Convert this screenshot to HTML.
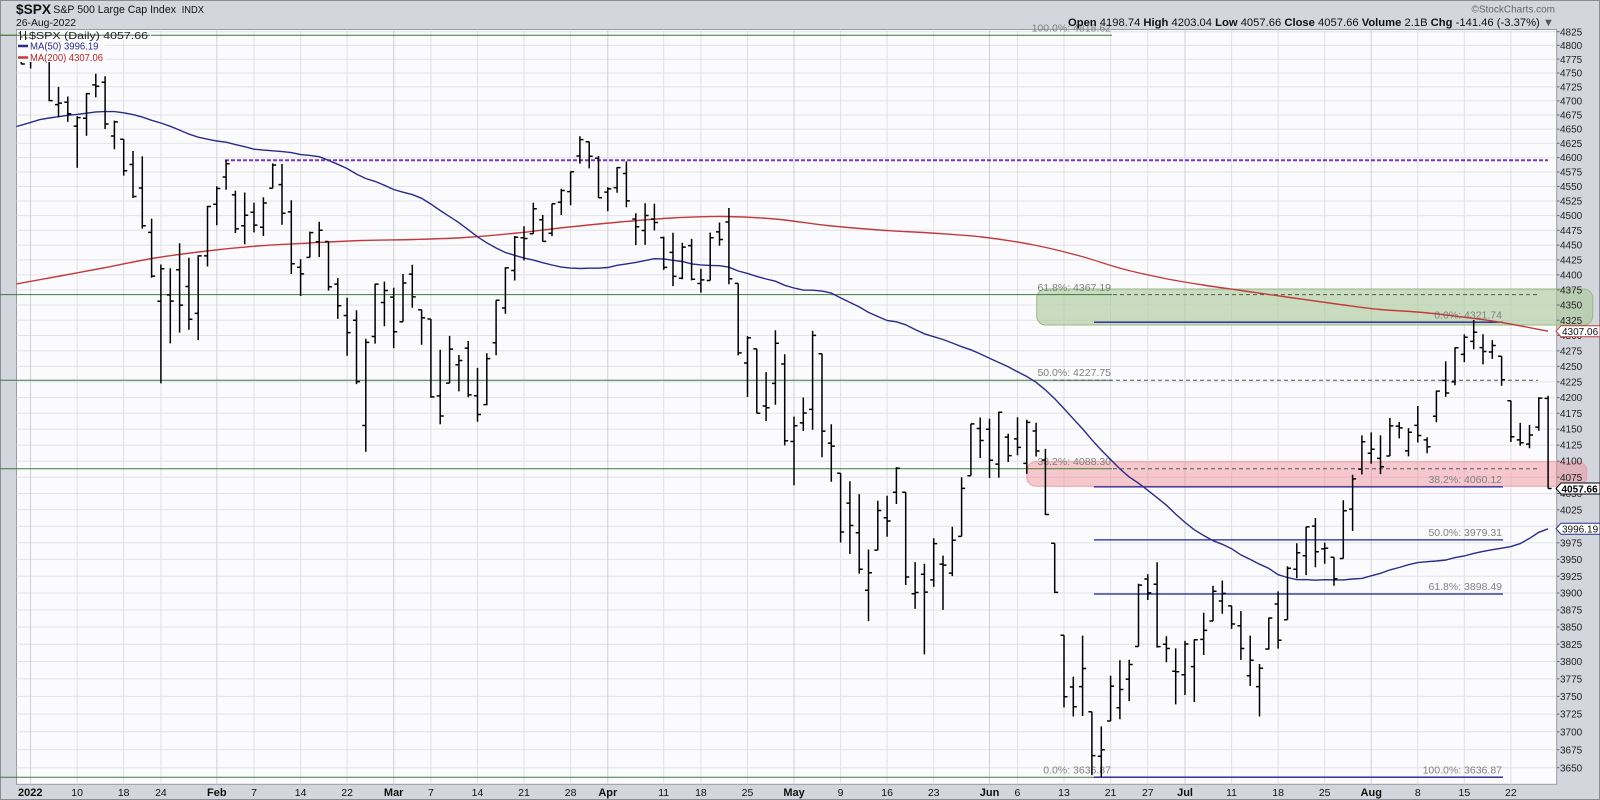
<!DOCTYPE html>
<html><head><meta charset="utf-8">
<style>
html,body{margin:0;padding:0;background:#d3d6dd;width:1600px;height:800px;overflow:hidden;}
svg{display:block;font-family:"Liberation Sans",Arial,sans-serif;}
.yl{font-size:10px;fill:#222;}
.dl{font-size:10.5px;fill:#111;text-anchor:middle;}
.dm{font-size:11px;font-weight:bold;fill:#111;text-anchor:middle;}
.fa{font-size:10.5px;fill:#808080;text-anchor:end;}
</style></head><body>
<svg id="c" width="1600" height="800" viewBox="0 0 1600 800" xmlns="http://www.w3.org/2000/svg">
<defs><clipPath id="pc"><rect x="16.5" y="29.5" width="1540.2" height="754.8"/></clipPath></defs>
<rect x="0" y="0" width="1600" height="800" fill="#d3d6dd"/>
<rect x="0.5" y="0.5" width="1599" height="799" fill="none" stroke="#8a8d94"/>
<rect x="16.5" y="29.5" width="1540.2" height="754.8" fill="#fbfbfd" stroke="#9a9ca3"/>
<g id="grid"></g>

<!-- zones -->
<rect x="1036.7" y="289" width="556" height="36" rx="9" fill="#a8c898" fill-opacity="0.6" stroke="#98b888" stroke-width="1"/>
<rect x="1026.7" y="461.7" width="560" height="24.5" rx="9" fill="#f08890" fill-opacity="0.45" stroke="#eba0a6" stroke-width="1"/>

<!-- fib A solid green -->
<g stroke="#3d7b3d" stroke-width="1">
<line x1="0" y1="35.2" x2="1112" y2="35.2"/>
<line x1="0" y1="294.6" x2="1112" y2="294.6"/>
<line x1="0" y1="380.2" x2="1112" y2="380.2"/>
<line x1="0" y1="468.7" x2="1112" y2="468.7"/>
<line x1="0" y1="777.2" x2="1112" y2="777.2"/>
</g>
<!-- dashed continuations -->
<g stroke="#4a5a4a" stroke-width="1" stroke-dasharray="4,3">
<line x1="1113" y1="294.6" x2="1539" y2="294.6"/>
<line x1="1053" y1="380.2" x2="1538" y2="380.2"/>
<line x1="1113" y1="468.7" x2="1539" y2="468.7"/>
</g>
<!-- purple dashed -->
<line x1="225" y1="160.3" x2="1548" y2="160.3" stroke="#7a35c4" stroke-width="2" stroke-dasharray="4,2"/>
<!-- fib B blue -->
<g stroke="#1f1f96" stroke-width="1.3">
<line x1="1094" y1="322.2" x2="1503" y2="322.2"/>
<line x1="1094" y1="486.9" x2="1503" y2="486.9"/>
<line x1="1094" y1="539.9" x2="1503" y2="539.9"/>
<line x1="1094" y1="594.0" x2="1503" y2="594.0"/>
<line x1="1094" y1="777.2" x2="1503" y2="777.2"/>
</g>
<!-- fib labels -->
<text class="fa" x="1111" y="31.5">100.0%: 4818.62</text>
<text class="fa" x="1111" y="290.8">61.8%: 4367.19</text>
<text class="fa" x="1111" y="376.2">50.0%: 4227.75</text>
<text class="fa" x="1111" y="465.2">38.2%: 4088.30</text>
<text class="fa" x="1111" y="773.5">0.0%: 3636.87</text>
<text class="fa" x="1502" y="318.5">0.0%: 4321.74</text>
<text class="fa" x="1502" y="483">38.2%: 4060.12</text>
<text class="fa" x="1502" y="536">50.0%: 3979.31</text>
<text class="fa" x="1502" y="590">61.8%: 3898.49</text>
<text class="fa" x="1502" y="773.5">100.0%: 3636.87</text>

<g clip-path="url(#pc)">
<path id="ma200" fill="none" stroke="#c23b3b" stroke-width="1.4"/>
<path id="ma50" fill="none" stroke="#2b2b88" stroke-width="1.4"/>
<path id="bars" fill="none" stroke="#000" stroke-width="1.5"/>
</g>

<!-- legend -->
<rect x="17" y="30" width="89" height="32" fill="#fbfbfd"/>
<rect x="17" y="30" width="134" height="10" fill="#fbfbfd"/>
<line x1="0" y1="35.2" x2="150" y2="35.2" stroke="#3d7b3d" stroke-width="1"/>
<path d="M20.5,31 V40 M18.5,33 H20.5 M20.5,37 H22.5 M25.5,31 V40 M23.5,35 H25.5 M25.5,38 H27.5" stroke="#222" stroke-width="1" fill="none"/>
<text x="29" y="39" font-size="10.5" fill="#222" textLength="119" lengthAdjust="spacingAndGlyphs">$SPX (Daily) 4057.66</text>
<line x1="18" y1="46" x2="28" y2="46" stroke="#2b2b88" stroke-width="2.5"/>
<text x="30" y="49.5" font-size="10.5" fill="#2b2b88" textLength="68.5" lengthAdjust="spacingAndGlyphs">MA(50) 3996.19</text>
<line x1="18" y1="57.5" x2="28" y2="57.5" stroke="#c23b3b" stroke-width="2.5"/>
<text x="30" y="61" font-size="10.5" fill="#b02525" textLength="73" lengthAdjust="spacingAndGlyphs">MA(200) 4307.06</text>

<!-- header -->
<text x="16" y="14" font-size="14" font-weight="bold" fill="#111" textLength="35" lengthAdjust="spacingAndGlyphs">$SPX</text>
<text x="53.3" y="13" font-size="10.8" fill="#111" textLength="122.7" lengthAdjust="spacingAndGlyphs">S&amp;P 500 Large Cap Index</text>
<text x="181.7" y="13" font-size="10" fill="#111" textLength="22.3" lengthAdjust="spacingAndGlyphs">INDX</text>
<text x="16" y="26" font-size="10.5" fill="#111" textLength="60" lengthAdjust="spacingAndGlyphs">26-Aug-2022</text>
<text x="1555" y="12.5" font-size="10" fill="#666" text-anchor="end">©StockCharts.com</text>
<text x="1554" y="26" font-size="11" fill="#111" text-anchor="end" textLength="486" lengthAdjust="spacingAndGlyphs"><tspan font-weight="bold">Open</tspan> 4198.74 <tspan font-weight="bold">High</tspan> 4203.04 <tspan font-weight="bold">Low</tspan> 4057.66 <tspan font-weight="bold">Close</tspan> 4057.66 <tspan font-weight="bold">Volume</tspan> 2.1B <tspan font-weight="bold">Chg</tspan> -141.46 (-3.37%) <tspan fill="#555">▼</tspan></text>

<!-- right axis -->
<g id="ticks" stroke="#666" stroke-width="1"></g>
<g id="yax">
<text class="yl" x="1560">4825</text><text class="yl" x="1560">4800</text><text class="yl" x="1560">4775</text><text class="yl" x="1560">4750</text>
<text class="yl" x="1560">4725</text><text class="yl" x="1560">4700</text><text class="yl" x="1560">4675</text><text class="yl" x="1560">4650</text>
<text class="yl" x="1560">4625</text><text class="yl" x="1560">4600</text><text class="yl" x="1560">4575</text><text class="yl" x="1560">4550</text>
<text class="yl" x="1560">4525</text><text class="yl" x="1560">4500</text><text class="yl" x="1560">4475</text><text class="yl" x="1560">4450</text>
<text class="yl" x="1560">4425</text><text class="yl" x="1560">4400</text><text class="yl" x="1560">4375</text><text class="yl" x="1560">4350</text>
<text class="yl" x="1560">4325</text><text class="yl" x="1560">4300</text><text class="yl" x="1560">4275</text><text class="yl" x="1560">4250</text>
<text class="yl" x="1560">4225</text><text class="yl" x="1560">4200</text><text class="yl" x="1560">4175</text><text class="yl" x="1560">4150</text>
<text class="yl" x="1560">4125</text><text class="yl" x="1560">4100</text><text class="yl" x="1560">4075</text><text class="yl" x="1560">4050</text>
<text class="yl" x="1560">4025</text><text class="yl" x="1560">4000</text><text class="yl" x="1560">3975</text><text class="yl" x="1560">3950</text>
<text class="yl" x="1560">3925</text><text class="yl" x="1560">3900</text><text class="yl" x="1560">3875</text><text class="yl" x="1560">3850</text>
<text class="yl" x="1560">3825</text><text class="yl" x="1560">3800</text><text class="yl" x="1560">3775</text><text class="yl" x="1560">3750</text>
<text class="yl" x="1560">3725</text><text class="yl" x="1560">3700</text><text class="yl" x="1560">3675</text><text class="yl" x="1560">3650</text>
</g>
<polygon points="1556,331.2 1561,325.7 1600,325.7 1600,336.7 1561,336.7" fill="#fff" stroke="#c23b3b"/>
<text x="1562" y="335" font-size="10" fill="#111">4307.06</text>
<polygon points="1556,488.5 1561,483 1600,483 1600,494 1561,494" fill="#fff" stroke="#000"/>
<text x="1561.5" y="492.3" font-size="10" font-weight="bold" fill="#000">4057.66</text>
<polygon points="1556,528.7 1561,523.2 1600,523.2 1600,534.2 1561,534.2" fill="#fff" stroke="#2b2b88"/>
<text x="1562" y="532.5" font-size="10" fill="#111">3996.19</text>

<!-- bottom date axis -->
<text class="dm" x="18" y="796" text-anchor="start" style="text-anchor:start">2022</text>
<text class="dl" x="77.15" y="796">10</text>
<text class="dl" x="123.7" y="796">18</text>
<text class="dl" x="160.94" y="796">24</text>
<text class="dm" x="216.8" y="796">Feb</text>
<text class="dl" x="254.04" y="796">7</text>
<text class="dl" x="300.59" y="796">14</text>
<text class="dl" x="347.14" y="796">22</text>
<text class="dm" x="393.69" y="796">Mar</text>
<text class="dl" x="430.93" y="796">7</text>
<text class="dl" x="477.48" y="796">14</text>
<text class="dl" x="524.03" y="796">21</text>
<text class="dl" x="570.58" y="796">28</text>
<text class="dm" x="607.82" y="796">Apr</text>
<text class="dl" x="663.68" y="796">11</text>
<text class="dl" x="700.92" y="796">18</text>
<text class="dl" x="747.47" y="796">25</text>
<text class="dm" x="794.02" y="796">May</text>
<text class="dl" x="840.57" y="796">9</text>
<text class="dl" x="887.12" y="796">16</text>
<text class="dl" x="933.67" y="796">23</text>
<text class="dm" x="989.53" y="796">Jun</text>
<text class="dl" x="1017.46" y="796">6</text>
<text class="dl" x="1064.01" y="796">13</text>
<text class="dl" x="1110.56" y="796">21</text>
<text class="dl" x="1147.8" y="796">27</text>
<text class="dm" x="1185.04" y="796">Jul</text>
<text class="dl" x="1231.59" y="796">11</text>
<text class="dl" x="1278.14" y="796">18</text>
<text class="dl" x="1324.69" y="796">25</text>
<text class="dm" x="1371.24" y="796">Aug</text>
<text class="dl" x="1417.79" y="796">8</text>
<text class="dl" x="1464.34" y="796">15</text>
<text class="dl" x="1510.89" y="796">22</text>
</svg>
<script>
(function(){
const NS="http://www.w3.org/2000/svg";
const LT=Math.log(4825);
const Y=p=>31.7+2637.3*(LT-Math.log(p));
const X=i=>30.6+9.31*i;
function el(t,a,p){const e=document.createElementNS(NS,t);for(const k in a)e.setAttribute(k,a[k]);p.appendChild(e);return e;}
// grid
const g=document.getElementById('grid');
for(let p=3650;p<=4825;p+=25){const y=Y(p).toFixed(1);el('line',{x1:16.5,x2:1556.7,y1:y,y2:y,stroke:'#e2e3e8','stroke-width':1},g);}
const di=[[0,1],[5,0],[10,0],[14,0],[20,1],[24,0],[29,0],[34,0],[39,1],[43,0],[48,0],[53,0],[58,0],[62,1],[68,0],[72,0],[77,0],[82,1],[87,0],[92,0],[97,0],[103,1],[106,0],[111,0],[116,0],[120,0],[124,1],[129,0],[134,0],[139,0],[144,1],[149,0],[154,0],[159,0]];
di.forEach(([i,m])=>{const x=X(i).toFixed(1);el('line',{x1:x,x2:x,y1:29.5,y2:784.3,stroke:m?'#cfd1d8':'#e0e1e7','stroke-width':1},g);});
// y labels & ticks
const tk=document.getElementById('ticks');
document.querySelectorAll('#yax text').forEach(t=>{const p=+t.textContent;const y=Y(p);t.setAttribute('y',(y+3.6).toFixed(1));el('line',{x1:1556.7,x2:1559.5,y1:y.toFixed(1),y2:y.toFixed(1)},tk);});
const D=[4794.23,4808.93,4775.33,4778.73,4775.21,4786.83,4765.75,4766.18,
4778.14,4796.64,4758.17,4796.56,4804.51,4818.62,4774.27,4793.54,4787.99,4797.70,4699.44,4700.58,4693.39,4725.01,4671.26,4696.05,4697.66,4707.95,4662.74,4677.03,
4655.34,4673.02,4582.24,4670.29,4669.14,4714.13,4638.27,4713.07,4728.59,4748.83,4706.71,4726.35,4733.56,4744.13,4650.29,4659.03,4637.99,4665.13,4614.75,4662.85,
4632.24,4632.24,4568.70,4577.11,4588.03,4611.55,4530.20,4532.76,4547.35,4602.11,4477.95,4482.73,4471.38,4494.52,4395.34,4397.94,
4356.32,4417.35,4222.62,4410.13,4366.64,4411.01,4287.11,4356.45,4408.43,4453.23,4304.80,4349.93,4380.58,4428.74,4309.50,4326.51,4336.19,4432.72,4292.46,4431.85,
4431.79,4516.89,4414.02,4515.55,
4519.57,4550.49,4483.53,4546.54,4566.39,4595.31,4544.32,4589.38,4535.41,4542.88,4470.39,4477.44,4482.79,4539.66,4451.50,4500.53,
4505.75,4521.86,4471.47,4483.87,4480.02,4531.32,4465.40,4521.54,4547.00,4590.03,4547.00,4587.18,4553.24,4588.92,4484.31,4504.08,4506.27,4526.33,4401.41,4418.64,
4412.61,4426.22,4364.84,4401.67,4429.28,4472.77,4429.28,4471.07,4455.75,4489.55,4429.68,4475.01,4456.06,4456.06,4373.81,4380.26,4384.57,4394.60,4327.22,4348.87,
4332.74,4362.12,4267.11,4304.76,4324.93,4341.51,4221.51,4225.50,4155.77,4294.73,4114.65,4288.70,4298.38,4385.34,4286.83,4384.65,
4354.17,4388.84,4315.12,4373.94,
4363.14,4378.45,4279.54,4306.26,4322.56,4401.48,4322.56,4386.54,4401.31,4416.78,4345.56,4363.49,4342.12,4342.12,4284.98,4328.87,
4327.01,4327.01,4199.85,4201.09,4202.66,4276.94,4157.87,4170.70,4223.10,4299.40,4223.10,4277.88,4252.55,4268.28,4209.80,4259.52,4279.50,4291.01,4200.49,4204.31,
4202.75,4247.57,4161.72,4173.11,4188.82,4271.05,4187.90,4262.45,4288.14,4357.86,4267.92,4357.86,4345.11,4412.67,4335.65,4411.67,4407.34,4465.40,4390.57,4463.12,
4462.40,4481.75,4424.30,4461.18,4469.10,4522.00,4469.10,4511.61,4493.10,4501.07,4455.81,4456.24,4469.98,4520.58,4465.17,4520.16,4522.91,4546.03,4501.07,4543.06,
4541.09,4575.65,4517.69,4575.52,4602.86,4637.30,4589.66,4631.60,4627.77,4627.77,4581.32,4602.45,4599.02,4603.07,4530.41,4530.41,
4540.32,4548.70,4507.57,4545.86,
4547.97,4583.50,4539.21,4582.64,4572.45,4593.45,4514.17,4525.12,4494.17,4503.94,4450.04,4481.15,4474.65,4521.16,4450.30,4500.21,4494.15,4520.41,4474.60,4488.28,
4462.64,4464.35,4408.38,4412.53,4437.59,4471.00,4381.34,4397.45,4394.30,4453.92,4392.70,4446.59,4449.12,4460.46,4390.77,4392.59,
4385.63,4410.31,4370.30,4391.69,4390.63,4471.03,4390.63,4462.21,4472.26,4488.29,4448.76,4459.45,4489.17,4512.94,4384.47,4393.66,4385.83,4385.83,4267.62,4271.78,
4255.34,4299.02,4200.82,4296.12,4278.14,4278.14,4175.04,4175.20,4186.52,4240.71,4162.90,4183.96,4222.58,4308.45,4188.63,4287.50,4253.75,4269.68,4124.28,4131.93,
4130.61,4169.81,4062.51,4155.38,4159.78,4200.10,4147.08,4175.48,4181.18,4307.66,4148.91,4300.17,4270.43,4270.43,4106.01,4146.87,4128.17,4157.69,4067.91,4123.34,
4081.27,4081.27,3975.48,3991.24,4035.18,4068.82,3958.17,4001.05,3990.08,4049.09,3928.82,3935.18,3903.95,3964.80,3858.87,3930.08,3963.90,4038.88,3963.90,4023.89,
4013.02,4046.46,3983.99,4008.01,4052.00,4090.72,4033.93,4088.85,4051.98,4051.98,3911.91,3923.68,3899.00,3945.96,3876.58,3900.79,3927.76,3943.42,3810.32,3901.36,
3919.42,3981.88,3909.04,3973.75,3942.94,3955.68,3875.13,3941.48,3929.59,3999.33,3925.03,3978.73,3984.60,4075.14,3984.60,4057.84,4077.43,4158.49,4077.43,4158.24,
4151.09,4168.34,4104.88,4132.15,
4149.78,4166.54,4073.85,4101.23,4095.41,4177.51,4074.37,4176.82,4137.57,4142.67,4098.67,4108.54,
4134.72,4168.78,4109.18,4121.43,4096.47,4164.86,4080.19,4160.68,4147.12,4160.14,4107.20,4115.77,4101.65,4119.10,4017.17,4017.82,3974.39,3974.39,3900.16,3900.86,
3838.15,3838.15,3734.30,3749.63,3763.52,3778.18,3721.56,3735.48,3764.05,3837.56,3722.30,3789.99,3728.18,3728.18,3639.77,3666.77,3665.90,3707.71,3636.87,3674.84,
3715.31,3779.65,3715.31,3764.79,3733.89,3801.79,3717.69,3759.89,3774.71,3802.58,3743.52,3795.73,3821.75,3913.65,3821.75,3911.74,
3920.76,3927.72,3889.66,3900.11,3913.00,3945.86,3820.14,3821.55,3825.09,3836.50,3799.02,3818.83,3785.99,3818.99,3738.67,3785.38,
3781.00,3829.82,3752.10,3825.33,
3792.61,3832.19,3742.06,3831.39,3831.98,3870.91,3809.37,3845.08,3858.85,3910.63,3858.85,3902.62,3888.26,3918.50,3869.34,3899.38,
3880.94,3880.94,3847.22,3854.43,3851.95,3873.41,3802.36,3818.80,3779.67,3837.56,3765.03,3801.78,3763.99,3796.41,3721.56,3790.38,3818.00,3863.62,3817.18,3863.16,
3883.79,3902.44,3818.63,3830.85,3860.73,3939.81,3860.73,3936.69,3935.32,3974.13,3922.03,3959.90,3955.47,3999.29,3926.63,3998.95,4000.16,4012.44,3938.24,3961.63,
3965.72,3975.30,3943.46,3966.84,3953.22,3953.22,3910.74,3921.05,3951.43,4039.56,3951.43,4023.61,4026.13,4078.95,3992.97,4072.43,4087.33,4140.15,4079.22,4130.29,
4112.38,4144.95,4096.02,4118.63,4104.21,4140.47,4079.81,4091.19,4107.96,4167.66,4107.96,4155.17,4154.85,4161.29,4135.42,4151.94,4115.87,4151.58,4107.31,4145.19,
4155.93,4186.62,4128.97,4140.06,4133.11,4137.30,4112.09,4122.47,4170.46,4211.03,4160.98,4210.24,4227.40,4257.91,4201.41,4207.27,4225.02,4280.47,4219.78,4280.15,
4269.37,4301.79,4256.90,4297.14,4290.46,4325.28,4277.77,4305.20,4280.40,4302.18,4253.08,4274.04,4273.13,4292.53,4261.98,4283.74,4266.31,4266.31,4218.70,4228.48,
4195.08,4195.08,4129.86,4137.99,4133.09,4159.77,4124.03,4128.73,4126.55,4156.56,4119.97,4140.77,4153.26,4200.54,4147.59,4199.12,4198.74,4203.04,4057.66,4057.66];
const PRE=[4536.19,4549.78,4544.90,4566.48,4574.79,4551.68,4596.42,4605.38,
4613.67,4630.65,4660.57,4680.06,4697.53,4701.70,4685.25,4646.71,4649.27,4682.85,4682.80,4700.90,4688.67,4704.54,4697.96,4682.94,4690.70,4701.46,4594.62,4655.27,4567.00,
4513.04,4577.10,4538.43,4591.67,4686.75,4701.21,4667.45,4712.02,4668.97,4634.09,4709.85,4668.67,4620.64,4568.02,4649.23,4696.56,4725.79,4791.19,4786.35,4793.06];
const n=D.length/4;
let bd='';const cl=PRE.slice();
for(let j=0;j<n;j++){const o=D[4*j],h=D[4*j+1],l=D[4*j+2],c=D[4*j+3];cl.push(c);
const x=X(j-2);
bd+=`M${x.toFixed(1)},${Y(h).toFixed(1)}V${Y(l).toFixed(1)}M${(x-3.5).toFixed(1)},${Y(o).toFixed(1)}H${x.toFixed(1)}M${x.toFixed(1)},${Y(c).toFixed(1)}H${(x+3.5).toFixed(1)}`;}
document.getElementById('bars').setAttribute('d',bd);
let md='';
for(let j=0;j<n;j++){const k=49+j;let s=0;for(let q=k-49;q<=k;q++)s+=cl[q];const m=s/50;
md+=(j?'L':'M')+X(j-2).toFixed(1)+','+Y(m).toFixed(1);}
document.getElementById('ma50').setAttribute('d',md);
const P=[[12,285.5],[16.5,284],[60,276],[103,268],[155,258],[207,251],[258,246],[310,243],[362,240.5],[414,239.5],[465,237.5],[517,233],[569,227],[620,222],[672,218],[724,216.5],[775,219],[827,225.5],[879,230],[931,233],[982,237],[1034,245],[1080,256],[1123,269],[1165,278.5],[1203,285],[1241,290.5],[1290,297.5],[1340,304.5],[1380,309.5],[1423,312.5],[1473,318.3],[1503,322.7],[1548,331.2]];
let d='M'+P[0][0]+','+P[0][1];
for(let i=0;i<P.length-1;i++){const p0=P[i-1]||P[i],p1=P[i],p2=P[i+1],p3=P[i+2]||p2;
d+=`C${(p1[0]+(p2[0]-p0[0])/6).toFixed(1)},${(p1[1]+(p2[1]-p0[1])/6).toFixed(1)} ${(p2[0]-(p3[0]-p1[0])/6).toFixed(1)},${(p2[1]-(p3[1]-p1[1])/6).toFixed(1)} ${p2[0]},${p2[1]}`;}
document.getElementById('ma200').setAttribute('d',d);
})();
</script>
</body></html>
